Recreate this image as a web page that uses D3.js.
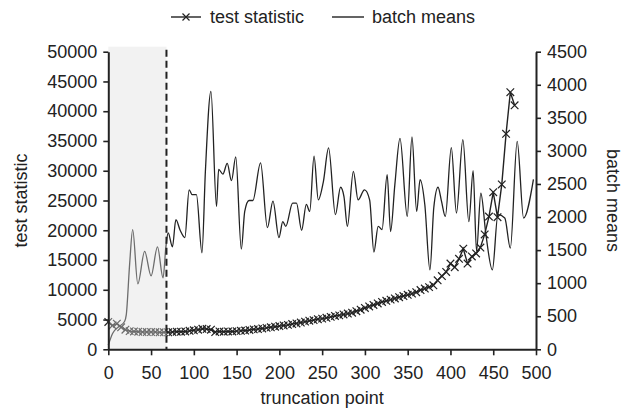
<!DOCTYPE html>
<html>
<head>
<meta charset="utf-8">
<script src="https://cdn.jsdelivr.net/npm/d3@7"></script>
<style>
body { margin: 0; background: #fff; }
text { font-family: "Liberation Sans", Arial, sans-serif; fill: #222; }
</style>
</head>
<body>
<svg id="chart" width="630" height="414"></svg>
<script>
// truncation points where the test statistic was computed
let testX = [0,5,10,15,20,25,30,35,40,45,50,55,60,65,70,75,80,85,90,95,
  100,105,110,115,120,125,130,135,140,145,150,155,160,165,170,175,180,185,190,195,
  200,205,210,215,220,225,230,235,240,245,250,255,260,265,270,275,280,285,290,295,
  300,305,310,315,320,325,330,335,340,345,350,355,360,365,370,375,380,385,390,395,
  400,405,410,415,420,425,430,435,440,445,450,455,460,465,470,475];
let testStat = [4600,4000,4300,3700,3300,3050,3000,2950,2900,2900,2900,2900,2850,2850,2850,2900,2950,2950,3000,3100,
  3200,3300,3450,3400,3300,2900,3000,2950,3000,3000,3050,3100,3150,3250,3350,3400,3500,3600,3700,3800,
  3900,4000,4100,4250,4350,4500,4650,4800,4900,5050,5150,5300,5450,5600,5700,5850,6000,6150,6400,6650,
  6950,7200,7450,7700,7950,8150,8350,8550,8750,8950,9150,9350,9600,9950,10200,10450,10750,11600,12300,13000,
  14400,13800,15200,16900,14400,15600,16100,17100,19300,22300,26400,22200,27700,36200,43200,41000];

// batch means (right axis)
let batchX = [0,5,12,19,21,25,28.5,34.5,42.5,50,57.5,64,67.5,70,75,79,84,89.5,94.5,98,
  103,109.5,113.5,120,126.5,129,134,139,144,149,155.5,159.5,164.5,169,178,186,192.5,199.5,204,207.5,
  215.5,220,226,231.5,235.5,240.5,245.5,251.5,257.5,265.5,271.5,275.5,279.5,286.5,292,299.5,305.5,310.5,315.5,320,
  326,330,335,341,349.5,355,360.5,364.5,370,376,380.5,385.5,389.5,394,401,407,414.5,421.5,426.5,430.5,
  435.5,441.5,449,455.5,463.5,470,478,485.5,497];
let batchMean = [65,240,340,420,520,1300,1810,990,1480,1110,1550,1080,1580,1760,1550,1960,1800,1690,2410,2340,
  2340,1460,2690,3900,2160,2720,2650,2810,2550,2910,1515,2085,2250,2250,2820,1840,2240,1690,1930,1860,
  2210,2210,1800,2190,2085,2920,2260,2540,3045,2035,2450,2310,1860,2690,2260,2410,2260,1470,1860,1810,
  2640,1780,2490,3190,2010,3210,2085,2565,2190,1200,2140,2450,2240,2010,3050,2060,3170,1930,2700,1480,
  2360,1730,1200,2035,1985,1530,3145,1985,2570];

let xTicks = [0,50,100,150,200,250,300,350,400,450,500];
let leftTicks = [0,5000,10000,15000,20000,25000,30000,35000,40000,45000,50000];
let rightTicks = [0,500,1000,1500,2000,2500,3000,3500,4000,4500];
let warmup = 68;

let svg = d3.select('#chart');
let plotLeft = 108.3, plotRight = 536, plotTop = 51.7, plotBottom = 349.3;
let fontSize = '18px';

let x = d3.scaleLinear().domain([0,500]).range([plotLeft,plotRight]);
let yL = d3.scaleLinear().domain([0,50000]).range([plotBottom,plotTop]);
let yR = d3.scaleLinear().domain([0,4500]).range([plotBottom,plotTop]);

// batch means line
let batchLine = d3.line()
  .x(function(d){ return x(d[0]); })
  .y(function(d){ return yR(d[1]); })
  .curve(d3.curveMonotoneX);

svg.append('path')
  .datum(d3.zip(batchX, batchMean))
  .attr('d', batchLine)
  .attr('fill','none')
  .attr('stroke','#222')
  .attr('stroke-width',1.3);

// test statistic line + markers
let testData = d3.zip(testX, testStat);
let testLine = d3.line()
  .x(function(d){ return x(d[0]); })
  .y(function(d){ return yL(d[1]); });

svg.append('path')
  .datum(testData)
  .attr('d', testLine)
  .attr('fill','none')
  .attr('stroke','#222')
  .attr('stroke-width',1.4);

function cross(s) {
  return 'M' + (-s) + ',' + (-s) + 'L' + s + ',' + s + 'M' + (-s) + ',' + s + 'L' + s + ',' + (-s);
}

svg.append('g')
  .selectAll('path')
  .data(testData)
  .enter()
  .append('path')
  .attr('transform', function(d){ return 'translate(' + x(d[0]) + ',' + yL(d[1]) + ')'; })
  .attr('d', cross(3.8))
  .attr('fill','none')
  .attr('stroke','#222')
  .attr('stroke-width',1.2);

// warm-up shading, laid over the lines so they look faded
svg.append('rect')
  .attr('x', x(0))
  .attr('y', plotTop - 5)
  .attr('width', x(warmup) - x(0))
  .attr('height', plotBottom - plotTop + 5)
  .attr('fill','#dedede')
  .attr('fill-opacity',0.4);

svg.append('line')
  .attr('x1', x(warmup)).attr('x2', x(warmup))
  .attr('y1', plotTop - 2).attr('y2', plotBottom)
  .attr('stroke','#222')
  .attr('stroke-width',2)
  .attr('stroke-dasharray','7,4');

// axes
function styleAxis(g) {
  g.select('.domain').attr('stroke','#222').attr('stroke-width',2);
  g.selectAll('.tick line').attr('stroke','#222').attr('stroke-width',1.6);
  g.selectAll('.tick text').attr('fill','#222').style('font-size',fontSize)
    .style('font-family','"Liberation Sans", Arial, sans-serif');
}

svg.append('g')
  .attr('transform','translate(0,' + plotBottom + ')')
  .call(d3.axisBottom(x).tickValues(xTicks).tickSize(6).tickSizeOuter(0).tickPadding(11))
  .call(styleAxis);

svg.append('g')
  .attr('transform','translate(' + plotLeft + ',0)')
  .call(d3.axisLeft(yL).tickValues(leftTicks).tickSize(5).tickSizeOuter(0).tickPadding(6).tickFormat(d3.format('d')))
  .call(styleAxis);

svg.append('g')
  .attr('transform','translate(' + plotRight + ',0)')
  .call(d3.axisRight(yR).tickValues(rightTicks).tickSize(5).tickSizeOuter(0).tickPadding(6).tickFormat(d3.format('d')))
  .call(styleAxis);

// axis titles
svg.append('text')
  .attr('x', (plotLeft + plotRight) / 2)
  .attr('y', 404)
  .attr('text-anchor','middle')
  .style('font-size',fontSize)
  .text('truncation point');

svg.append('text')
  .attr('transform','translate(27,' + ((plotTop + plotBottom) / 2) + ') rotate(-90)')
  .attr('text-anchor','middle')
  .style('font-size',fontSize)
  .text('test statistic');

svg.append('text')
  .attr('transform','translate(607,' + ((plotTop + plotBottom) / 2) + ') rotate(90)')
  .attr('text-anchor','middle')
  .style('font-size',fontSize)
  .text('batch means');

// legend
let lg = svg.append('g');
lg.append('line').attr('x1',171).attr('x2',201).attr('y1',17).attr('y2',17)
  .attr('stroke','#222').attr('stroke-width',1.4);
lg.append('path').attr('transform','translate(186,17)').attr('d', cross(3.5))
  .attr('fill','none').attr('stroke','#222').attr('stroke-width',1.2);
lg.append('text').attr('x',210).attr('y',23).style('font-size',fontSize).text('test statistic');
lg.append('line').attr('x1',332).attr('x2',364).attr('y1',17).attr('y2',17)
  .attr('stroke','#222').attr('stroke-width',1.4);
lg.append('text').attr('x',372).attr('y',23).style('font-size',fontSize).text('batch means');
</script>
</body>
</html>
